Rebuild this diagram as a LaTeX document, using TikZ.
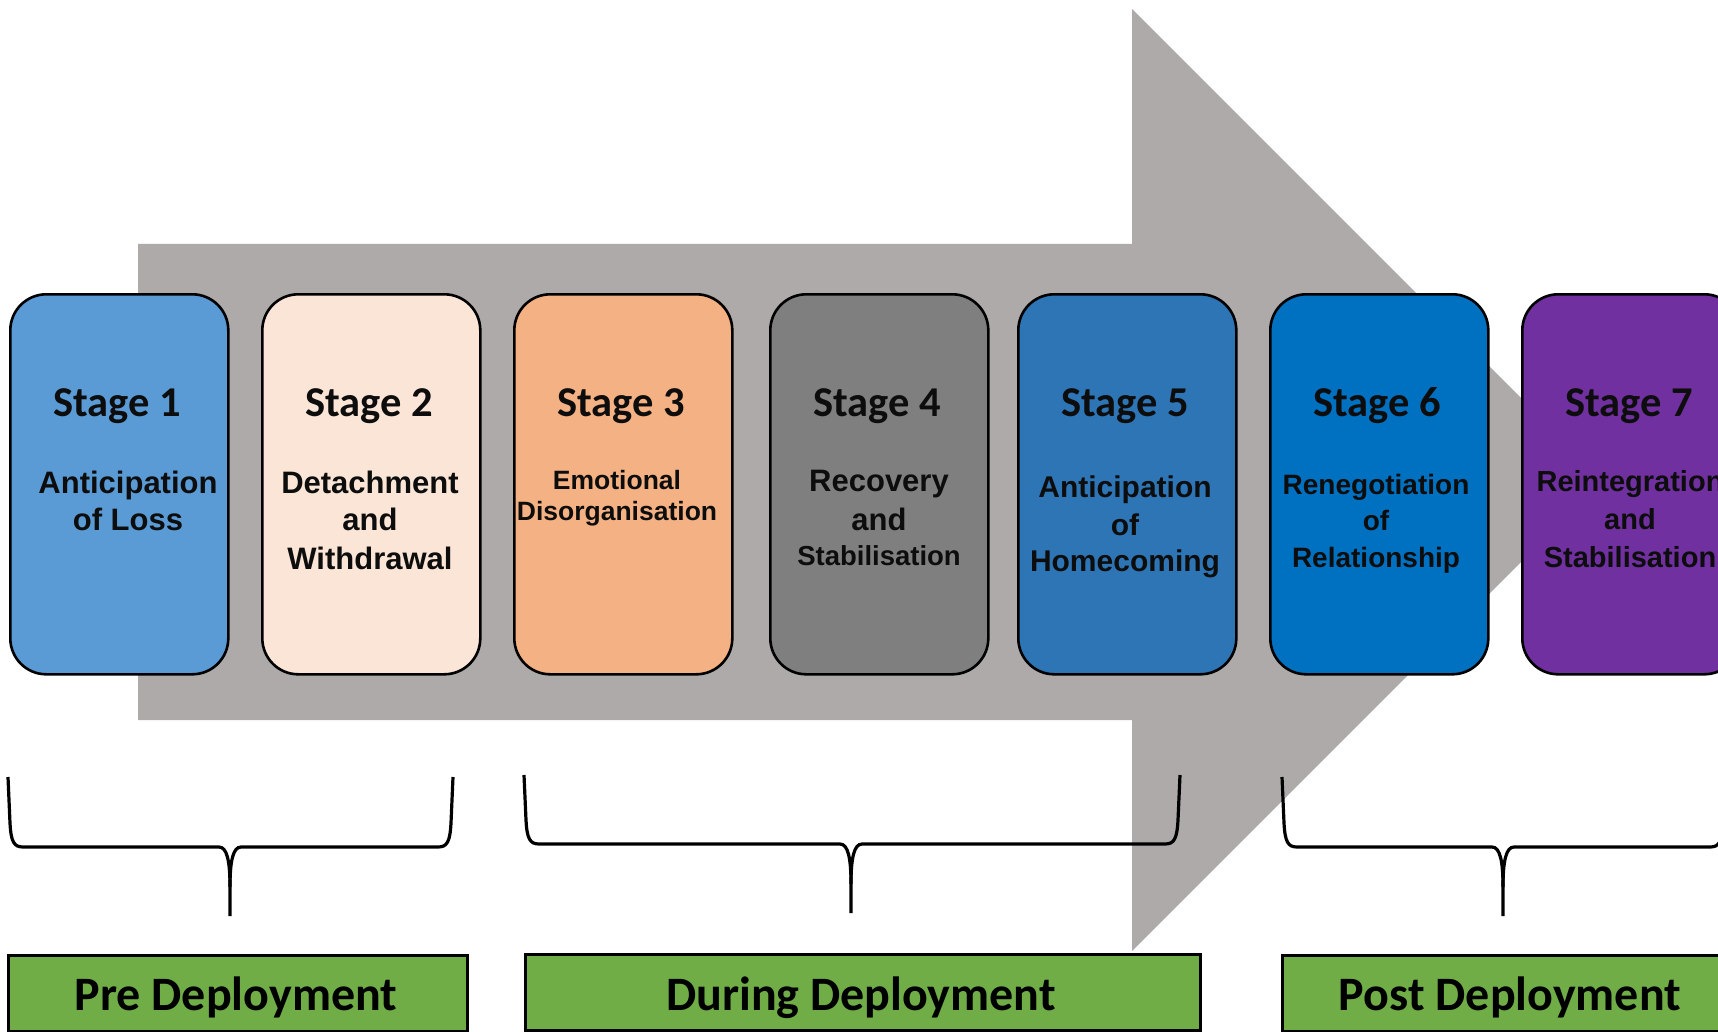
\documentclass[tikz,border=0pt]{standalone}
\usepackage{fontspec}
\setmainfont{Liberation Sans}
\newfontfamily\calib{Carlito}
\definecolor{arrowgray}{HTML}{AEAAAA}
\definecolor{cone}{HTML}{5B9BD5}
\definecolor{ctwo}{HTML}{FBE5D6}
\definecolor{cthree}{HTML}{F4B183}
\definecolor{cfour}{HTML}{7F7F7F}
\definecolor{cfive}{HTML}{2E75B6}
\definecolor{csix}{HTML}{0070C0}
\definecolor{cseven}{HTML}{7030A0}
\definecolor{phasegreen}{HTML}{70AD47}
\definecolor{ink}{HTML}{0D0D0D}

% curly brace opening upward with its tip pointing down
\newcommand\phasebrace[6]{% left, right, top, bar, tip x, tip bottom
  \draw[bracel] (#1,#3) -- ({#1+2},{#4-24}) .. controls ({#1+3},{#4-5}) and ({#1+6},#4) .. ({#1+15},#4)
    -- ({#5-11},#4) .. controls ({#5-3},#4) and (#5,{#4+14}) .. (#5,{#4+40}) -- (#5,#6);
  \draw[bracel] (#2,#3) -- ({#2-2},{#4-24}) .. controls ({#2-3},{#4-5}) and ({#2-6},#4) .. ({#2-15},#4)
    -- ({#5+11},#4) .. controls ({#5+3},#4) and (#5,{#4+14}) .. (#5,{#4+40});
}

\begin{document}
\begin{tikzpicture}[x=1pt,y=-1pt,
  stagebox/.style={draw=black, line width=2.6pt, rounded corners=36pt,
    minimum width=218pt, minimum height=380pt, inner sep=0pt, anchor=north west},
  title/.style={font=\calib\bfseries\fontsize{42.5}{50}\selectfont, text=ink,
    anchor=base, inner sep=0pt},
  desc/.style={font=\bfseries\fontsize{#1}{#1}\selectfont, text=ink,
    anchor=base, inner sep=0pt},
  desc/.default=31,
  phasebox/.style={draw=black, line width=3pt, fill=phasegreen, inner sep=0pt,
    minimum height=76pt, anchor=north west},
  phaselabel/.style={font=\calib\bfseries\fontsize{48}{56}\selectfont, text=black,
    anchor=base, inner sep=0pt},
  bracel/.style={draw=black, line width=3.2pt},
]
\useasboundingbox (0,0) rectangle (1718,1032);
\clip (0,0) rectangle (1718,1032);
\fill[white] (0,0) rectangle (1718,1032);

% big background arrow
\fill[arrowgray] (138,244) -- (1132,244) -- (1132,9) -- (1603,480)
  -- (1132,951) -- (1132,720) -- (138,720) -- cycle;

% stage boxes
\node[stagebox, fill=cone]   (s1) at (9,293) {};
\node[stagebox, fill=ctwo]   (s2) at (261,293) {};
\node[stagebox, fill=cthree] (s3) at (513,293) {};
\node[stagebox, fill=cfour]  (s4) at (769,293) {};
\node[stagebox, fill=cfive]  (s5) at (1017,293) {};
\node[stagebox, fill=csix]   (s6) at (1269,293) {};
\node[stagebox, fill=cseven] (s7) at (1521,293) {};

% stage titles
\node[title] (t1) at (117,416.5) {Stage 1};
\node[title] (t2) at (369,416.5) {Stage 2};
\node[title] (t3) at (621,416.5) {Stage 3};
\node[title] (t4) at (877,416.5) {Stage 4};
\node[title] (t5) at (1125,416.5) {Stage 5};
\node[title] (t6) at (1377,416.5) {Stage 6};
\node[title] (t7) at (1629,416.5) {Stage 7};

% stage descriptions
\node[desc] (d1a) at (128,493) {Anticipation};
\node[desc] (d1b) at (128,530.5) {of Loss};

\node[desc] (d2a) at (370,493) {Detachment};
\node[desc] (d2b) at (370,530.5) {and};
\node[desc] (d2c) at (370,569) {Withdrawal};

\node[desc=26.5] (d3a) at (617,489.5) {Emotional};
\node[desc=26.5] (d3b) at (617,520) {Disorganisation};

\node[desc] (d4a) at (879,491.5) {Recovery};
\node[desc] (d4b) at (879,530) {and};
\node[desc=27.5] (d4c) at (879,565) {Stabilisation};

\node[desc=30] (d5a) at (1125,497.5) {Anticipation};
\node[desc=30] (d5b) at (1125,535) {of};
\node[desc=30] (d5c) at (1125,571.5) {Homecoming};

\node[desc=28] (d6a) at (1376,494) {Renegotiation};
\node[desc=28] (d6b) at (1376,530.5) {of};
\node[desc=28] (d6c) at (1376,567.5) {Relationship};

\node[desc=29] (d7a) at (1630,491.5) {Reintegration};
\node[desc=29] (d7b) at (1630,529.5) {and};
\node[desc=29] (d7c) at (1630,567.5) {Stabilisation};

% braces grouping the stages
\phasebrace{8}{453}{777}{847}{230}{916}
\phasebrace{524}{1180}{775}{844}{851}{913}
\phasebrace{1282}{1725}{777}{847}{1503}{916}

% phase boxes
\node[phasebox, minimum width=459pt] (pre)    at (7,954) {};
\node[phasebox, minimum width=675pt] (during) at (524,953) {};
\node[phasebox, minimum width=459pt] (post)   at (1281,954) {};

\node[phaselabel] (lpre)    at (236,1010) {Pre Deployment};
\node[phaselabel] (lduring) at (861,1010) {During Deployment};
\node[phaselabel] (lpost)   at (1510,1010) {Post Deployment};
\end{tikzpicture}
\end{document}
